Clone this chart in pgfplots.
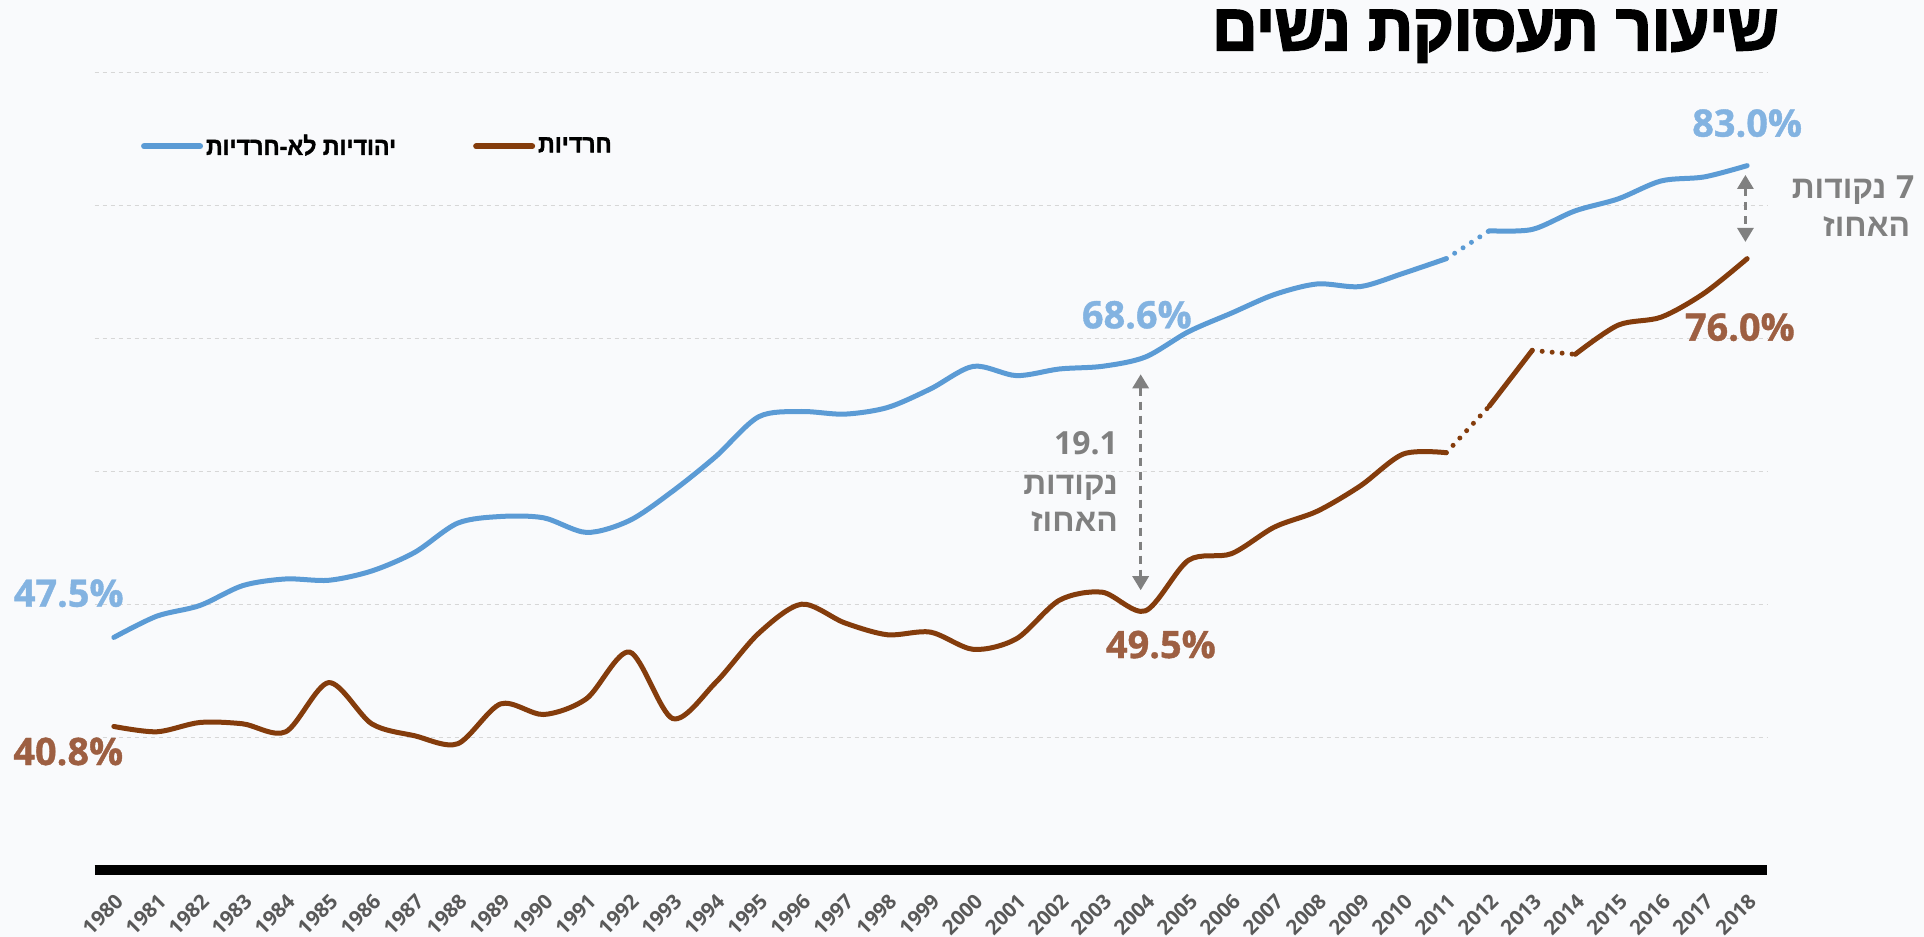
\documentclass[border=0pt]{standalone}
\usepackage{fontspec}
\usepackage{pgfplots}
\pgfplotsset{compat=1.18}
\usetikzlibrary{arrows.meta}
\TeXXeTstate=1
\setmainfont{Open Sans}
\newfontfamily\labfont[FakeBold=1]{Open Sans}
\newfontfamily\heb[Script=Hebrew]{Liberation Sans}
\newfontfamily\hebcond[Script=Hebrew,FakeStretch=0.95,FakeBold=3]{Liberation Sans}
\newfontfamily\hebleg[Script=Hebrew,FakeStretch=0.93,FakeBold=1.5]{Liberation Sans}
\definecolor{bg}{RGB}{249,250,252}
\definecolor{blueline}{RGB}{91,155,213}
\definecolor{brownline}{RGB}{132,60,12}
\definecolor{bluelab}{RGB}{131,179,225}
\definecolor{brownlab}{RGB}{157,95,66}
\definecolor{anngray}{RGB}{128,128,128}
\definecolor{tickgray}{RGB}{89,89,89}
\definecolor{gridgray}{RGB}{215,215,215}
\begin{document}
\begin{tikzpicture}
\path[use as bounding box, fill=bg] (-47.25bp,-33.5bp) rectangle (914.75bp,435bp);
\begin{axis}[
  scale only axis, width=836.2bp, height=398.7bp,
  xmin=1979.55, xmax=2018.46, ymin=30, ymax=90,
  clip=false,
  axis line style={draw=none},
  xtick={1980,...,2018}, ytick={40,50,...,90}, yticklabels={},
  ymajorgrids, major grid style={gridgray, line width=0.6bp, dash pattern=on 2bp off 2bp},
  major tick length=0pt,
  xticklabel style={rotate=45, anchor=north east, font=\bfseries\fontsize{10.3}{12}\selectfont, text=tickgray, inner sep=0pt},
  xticklabel shift=11bp,
  /pgf/number format/assume math mode=true,
  /pgf/number format/1000 sep={},
  legend columns=2,
  legend style={draw=none, fill=none, at={(0.0276,0.9076)}, anchor=west, inner sep=0pt,
    font=\hebleg\bfseries\fontsize{12.5}{15}\selectfont,
    /tikz/every even column/.append style={column sep=37bp}, nodes={inner sep=1.5bp}},
  legend image code/.code={\draw[#1, line width=3bp, line cap=round] (0bp,0bp) -- (28bp,0bp);},
  every axis plot/.append style={line width=2.5bp, line cap=round, no markers},
]
% non-Haredi Jewish women
\addplot[blueline, smooth] coordinates {
(1980,47.5)(1981,49.1)(1982,49.9)(1983,51.4)(1984,51.9)(1985,51.8)(1986,52.5)(1987,53.9)
(1988,56.1)(1989,56.6)(1990,56.5)(1991,55.4)(1992,56.3)(1993,58.5)(1994,61.1)(1995,64.1)
(1996,64.5)(1997,64.3)(1998,64.8)(1999,66.2)(2000,67.9)(2001,67.2)(2002,67.7)(2003,67.9)
(2004,68.6)(2005,70.5)(2006,71.9)(2007,73.3)(2008,74.1)(2009,73.9)(2010,74.9)(2011,76.0)};
\addlegendentry{\beginR יהודיות לא-חרדיות\endR}
% Haredi women
\addplot[brownline, smooth] coordinates {
(1980,40.8)(1981,40.4)(1982,41.1)(1983,41.0)(1984,40.4)(1985,44.1)(1986,41.0)(1987,40.1)
(1988,39.5)(1989,42.5)(1990,41.7)(1991,42.9)(1992,46.4)(1993,41.4)(1994,44.1)(1995,47.8)
(1996,50.0)(1997,48.6)(1998,47.7)(1999,47.9)(2000,46.6)(2001,47.4)(2002,50.3)(2003,50.9)
(2004,49.5)(2005,53.3)(2006,53.8)(2007,55.8)(2008,57.0)(2009,58.9)(2010,61.3)(2011,61.4)};
\addlegendentry{\beginR חרדיות\endR}
\addplot[blueline, dash pattern=on 0bp off 5bp, forget plot] coordinates {(2011,76.0)(2012,78.1)};
\addplot[blueline, smooth, forget plot] coordinates {
(2012,78.1)(2013,78.2)(2014,79.6)(2015,80.5)(2016,81.85)(2017,82.15)(2018,83.0)};
\addplot[brownline, dash pattern=on 0bp off 5bp, forget plot] coordinates {(2011,61.4)(2012,64.9)};
\addplot[brownline, smooth, forget plot] coordinates {(2012,64.9)(2013,69.1)};
\addplot[brownline, dash pattern=on 0bp off 5bp, forget plot] coordinates {(2013,69.1)(2014,68.8)};
\addplot[brownline, smooth, forget plot] coordinates {
(2014,68.8)(2015,71.0)(2016,71.6)(2017,73.4)(2018,76.0)};
% bottom axis line
\draw[black, line width=5bp] (axis cs:1979.55,30) -- (axis cs:2018.46,30);
% title
\node[font=\hebcond\bfseries\fontsize{33}{38}\selectfont, anchor=base east, inner sep=0pt] at (axis cs:2018.74,91.7) {\beginR שיעור תעסוקת נשים\endR};
% value labels
\node[font=\labfont\bfseries\fontsize{19}{21}\selectfont, text=bluelab, anchor=base, inner sep=0pt] at (axis cs:1978.95,49.81) {47.5\%};
\node[font=\labfont\bfseries\fontsize{19}{21}\selectfont, text=brownlab, anchor=base, inner sep=0pt] at (axis cs:1978.94,37.9) {40.8\%};
\node[font=\labfont\bfseries\fontsize{19}{21}\selectfont, text=bluelab, anchor=base, inner sep=0pt] at (axis cs:2003.8,70.76) {68.6\%};
\node[font=\labfont\bfseries\fontsize{19}{21}\selectfont, text=brownlab, anchor=base, inner sep=0pt] at (axis cs:2004.36,45.95) {49.5\%};
\node[font=\labfont\bfseries\fontsize{19}{21}\selectfont, text=bluelab, anchor=base, inner sep=0pt] at (axis cs:2018.0,85.18) {83.0\%};
\node[font=\labfont\bfseries\fontsize{19}{21}\selectfont, text=brownlab, anchor=base, inner sep=0pt] at (axis cs:2017.83,69.83) {76.0\%};
% gap annotations
\draw[anngray, line width=1.5bp, dash pattern=on 4bp off 3bp, {Triangle[length=7bp,width=8bp]}-{Triangle[length=7bp,width=8bp]}] (axis cs:2003.89,67.3) -- (axis cs:2003.89,51.05);
\draw[anngray, line width=1.5bp, dash pattern=on 4bp off 3bp, {Triangle[length=7bp,width=8bp]}-{Triangle[length=7bp,width=8bp]}] (axis cs:2017.96,82.3) -- (axis cs:2017.96,77.26);
\node[font=\bfseries\fontsize{16}{19}\selectfont, text=anngray, anchor=base east, inner sep=0pt] at (axis cs:2003.37,61.23) {19.1};
\node[font=\heb\bfseries\fontsize{16}{19}\selectfont, text=anngray, anchor=base east, inner sep=0pt] at (axis cs:2003.37,58.22) {\beginR נקודות\endR};
\node[font=\heb\bfseries\fontsize{16}{19}\selectfont, text=anngray, anchor=base east, inner sep=0pt] at (axis cs:2003.37,55.45) {\beginR האחוז\endR};
\node[font=\bfseries\fontsize{16}{19}\selectfont, text=anngray, anchor=base east, inner sep=0pt] (n7) at (axis cs:2021.9,80.54) {7};
\node[font=\heb\bfseries\fontsize{16}{19}\selectfont, text=anngray, anchor=base east, inner sep=0pt] at ([xshift=-4.5bp]n7.base west) {\beginR נקודות\endR};
\node[font=\heb\bfseries\fontsize{16}{19}\selectfont, text=anngray, anchor=base east, inner sep=0pt] at (axis cs:2021.8,77.65) {\beginR האחוז\endR};
\end{axis}
\end{tikzpicture}
\end{document}
